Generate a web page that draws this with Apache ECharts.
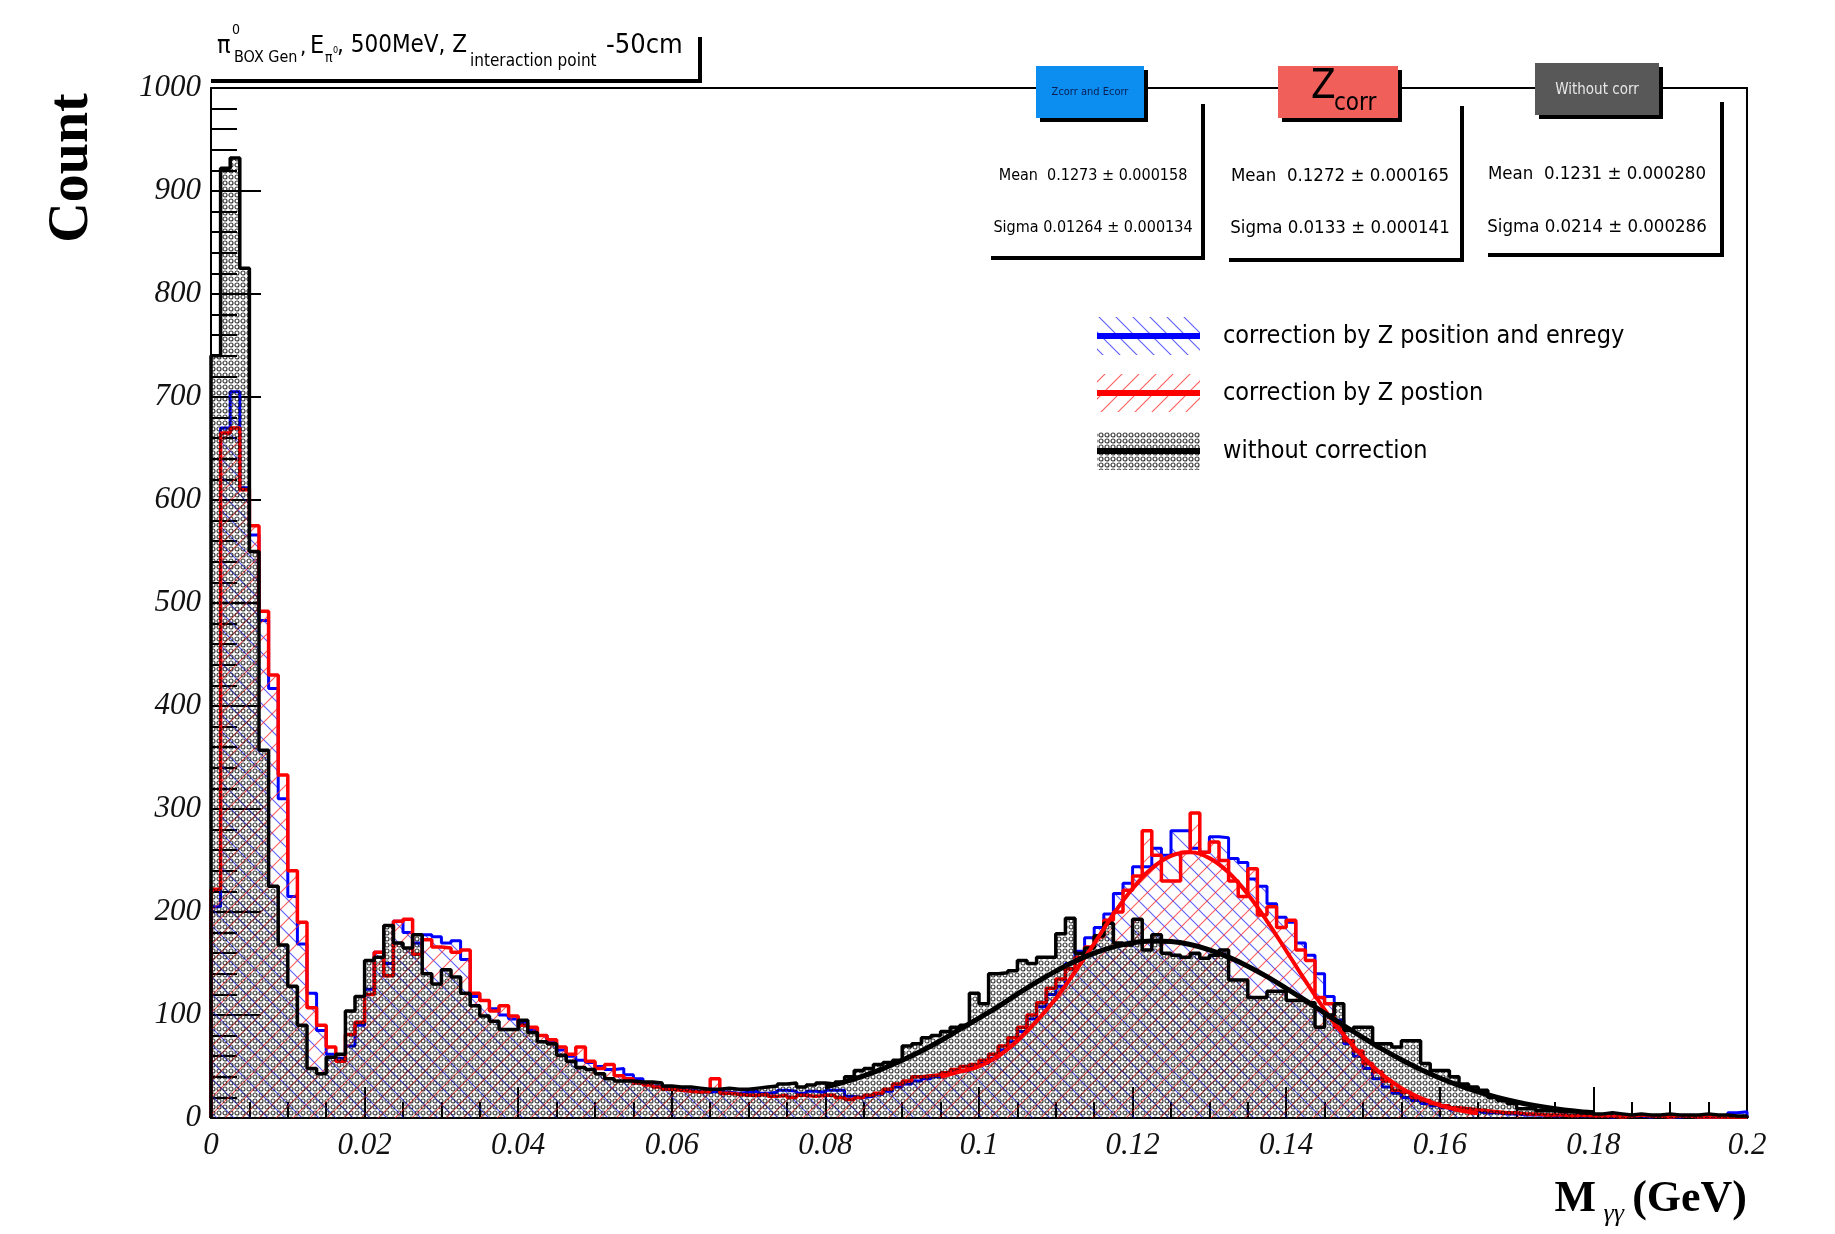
<!DOCTYPE html>
<html><head><meta charset="utf-8">
<script src="https://cdn.jsdelivr.net/npm/echarts@6/dist/echarts.min.js"></script>
<style>html,body{margin:0;padding:0;background:#fff;}#c{width:1835px;height:1234px;}</style>
</head><body><div id="c"></div>
<script>
// ---------------- DATA ----------------
const BIN_WIDTH = 0.00125; // GeV, 160 bins over 0..0.2
const blueCounts = [205,670,705,612,566,483,417,310,215,169,121,85,62,58,70,90,125,161,150,191,
180,170,178,176,170,172,154,118,114,106,100,96,92,86,80,74,66,60,56,54,
50,47,48,42,38,34,31,29,28,27,26,25,26,25,24,25,26,24,25,27,
26,24,26,25,27,27,21,20,21,23,26,30,33,36,38,40,43,45,46,50,
53,58,66,74,84,96,108,120,128,150,162,175,185,198,218,228,244,244,262,255,
279,279,262,258,273,272,252,248,232,225,208,195,190,170,158,140,118,95,72,60,
48,38,30,24,20,17,14,12,10,8,7,6,5,5,4,4,3,3,3,2,
3,2,2,2,2,1,2,2,2,1,2,1,1,2,1,1,1,2,5,6];
const redCounts = [222,665,670,610,575,492,430,333,240,190,107,90,69,55,81,93,120,161,138,191,
193,159,173,166,165,161,163,121,114,104,109,99,90,88,80,76,69,62,69,55,
48,52,41,38,34,32,30,28,27,26,25,26,38,24,23,22,22,23,21,22,
20,22,21,22,22,20,18,20,22,24,28,33,36,40,41,42,44,47,50,52,
56,62,70,78,88,100,112,126,135,145,156,166,176,192,200,221,235,279,255,230,
230,258,296,258,268,250,230,215,242,197,205,185,192,163,153,117,111,88,75,65,
53,45,36,27,25,20,17,14,12,10,9,8,7,6,5,5,4,4,3,3,
3,2,3,2,2,2,1,2,3,2,2,1,2,2,1,1,1,1,1,1];
const blackCounts = [740,922,932,825,550,357,225,168,128,90,48,43,59,62,104,118,153,156,187,170,
165,178,140,130,144,137,121,109,99,94,86,86,95,83,74,72,61,55,49,47,
43,38,36,36,35,35,34,31,30,30,29,28,28,29,28,28,29,30,31,33,
34,30,32,34,33,35,40,46,48,52,54,56,70,72,78,80,84,88,90,121,
111,140,141,143,153,150,156,156,179,194,160,165,177,189,170,168,193,163,178,160,
158,156,160,155,158,163,134,134,117,117,123,123,114,114,112,88,100,111,85,88,
88,72,72,69,75,75,53,46,46,40,33,30,27,20,17,14,9,9,7,7,
6,6,5,6,4,5,4,3,4,3,3,4,3,3,3,4,3,3,2,2];

const redFitX = [0.095,0.0975,0.100,0.1025,0.105,0.1075,0.110,0.1125,0.115,0.1175,0.120,0.1225,0.125,0.1275,0.130,0.1325,
0.135,0.1375,0.140,0.1425,0.145,0.1475,0.150,0.1525,0.155,0.1575,0.160,0.1625,0.165];
const redFitY = [40,45,50,60,75,94,116,142,169.4,197.8,222.8,242.4,254.5,257.9,252.3,238.3,
217.2,191.2,162.4,133.1,105.3,80.5,59.4,42.3,29.0,19.3,12.3,7.6,4.5];
const blackFitX = [0.080,0.0825,0.085,0.0875,0.090,0.0925,0.095,0.0975,0.100,0.1025,0.105,0.1075,0.110,0.1125,
0.115,0.1175,0.120,0.1225,0.125,0.1275,0.130,0.1325,0.135,0.1375,0.140,0.1425,0.145,0.1475,0.150,0.1525,
0.155,0.1575,0.160,0.1625,0.165,0.1675,0.170,0.1725,0.175,0.1775,0.180];
const blackFitY = [30,35,41,48,56,65,75,86,97,108.2,120.3,131.9,142.6,152.2,
160.1,166.2,170.2,171.9,171.3,168.4,163.3,156.2,147.4,137.2,125.9,114.1,101.9,89.8,78.1,66.9,
56.6,47.2,38.9,31.6,25.3,20.0,15.6,12.0,9.1,6.8,5.0];

const seriesNames = ['correction by Z position and enregy','correction by Z postion','without correction'];
const statHeaders = ['Zcorr and Ecorr','Z','Without corr'];
const statMeans = ['Mean  0.1273 \u00b1 0.000158','Mean  0.1272 \u00b1 0.000165','Mean  0.1231 \u00b1 0.000280'];
const statSigmas = ['Sigma 0.01264 \u00b1 0.000134','Sigma 0.0133 \u00b1 0.000141','Sigma 0.0214 \u00b1 0.000286'];

// ---------------- STYLE HELPERS ----------------
function hatch(color, forward) {
  const s = 17, c = document.createElement('canvas'); c.width = c.height = s;
  const g = c.getContext('2d'); g.strokeStyle = color; g.lineWidth = 1.1; g.beginPath();
  if (forward) { g.moveTo(0, s); g.lineTo(s, 0); g.moveTo(-2, 2); g.lineTo(2, -2); g.moveTo(s - 2, s + 2); g.lineTo(s + 2, s - 2); }
  else { g.moveTo(0, 0); g.lineTo(s, s); g.moveTo(s - 2, -2); g.lineTo(s + 2, 2); g.moveTo(-2, s - 2); g.lineTo(2, s + 2); }
  g.stroke(); return c;
}
function dots() {
  const s = 6, c = document.createElement('canvas'); c.width = c.height = s;
  const g = c.getContext('2d'); g.strokeStyle = 'rgba(0,0,0,0.78)'; g.lineWidth = 1.15;
  g.beginPath(); g.arc(3, 3, 2, 0, Math.PI * 2); g.stroke(); return c;
}
const blueHatch = {image: hatch('rgba(40,40,255,0.75)', false), repeat: 'repeat'};
const redHatch = {image: hatch('rgba(255,40,40,0.75)', true), repeat: 'repeat'};
const blackDots = {image: dots(), repeat: 'repeat'};

function histPoints(counts) {
  const pts = [[0, 0]];
  counts.forEach((v, i) => pts.push([+(i * BIN_WIDTH).toFixed(6), v]));
  const end = +(counts.length * BIN_WIDTH).toFixed(6);
  pts.push([end, counts[counts.length - 1]]); pts.push([end, 0]);
  return pts;
}
function histSeries(name, counts, color, width, fill, z) {
  return {name, type: 'line', step: 'end', data: histPoints(counts), symbol: 'none', z,
    lineStyle: {color, width}, areaStyle: {color: fill, opacity: 1}, silent: true};
}
function fitSeries(name, xs, ys, color, width, z) {
  return {name, type: 'line', smooth: 0.4, data: xs.map((x, i) => [x, ys[i]]), symbol: 'none', z,
    lineStyle: {color, width}, silent: true};
}

const serif = "'Liberation Serif','DejaVu Serif',serif";
const narrow = "'DejaVu Sans Condensed','Liberation Sans',Arial,sans-serif";

function txt(x, y, text, size, opts) {
  return Object.assign({type: 'text', x, y, silent: true, z: 100,
    style: Object.assign({text, font: size + 'px ' + narrow, fill: '#000', align: 'left', verticalAlign: 'middle'}, (opts || {}))});
}
function line(x1, y1, x2, y2, w, color) {
  return {type: 'line', silent: true, z: 100, shape: {x1, y1, x2, y2}, style: {stroke: color || '#000', lineWidth: w}};
}
function rect(x, y, w, h, fill, z) {
  return {type: 'rect', silent: true, z: z || 100, shape: {x, y, width: w, height: h}, style: {fill}};
}

const graphics = [];
// Title pave
graphics.push(txt(217, 46, '\u03c0', 25));
graphics.push(txt(232, 30, '0', 14));
graphics.push(txt(234, 58, 'BOX Gen', 16));
graphics.push(txt(300, 48, ',', 22));
graphics.push(txt(310, 46, 'E', 25));
graphics.push(txt(325, 58, '\u03c0', 14));
graphics.push(txt(333, 51, '0', 9));
graphics.push(txt(337, 46, ', 500MeV, Z', 24));
graphics.push(txt(470, 62, 'interaction point', 17));
graphics.push(txt(606, 46, '-50cm', 27));
graphics.push(line(211, 81, 702, 81, 4));
graphics.push(line(700, 37, 700, 83, 4));

// Stats boxes
const boxes = [
  {hx: 1036, hy: 66, hw: 108, hh: 52, color: '#0c8ef0', l: 987, r: 1203, t: 100, b: 258, cx: 1093, fs: 16},
  {hx: 1278, hy: 66, hw: 120, hh: 52, color: '#f05f5a', l: 1225, r: 1462, t: 102, b: 260, cx: 1340, fs: 18.5},
  {hx: 1535, hy: 63, hw: 124, hh: 52, color: '#585858', l: 1484, r: 1722, t: 98, b: 255, cx: 1597, fs: 18.5}
];
boxes.forEach((bx, i) => {
  graphics.push(rect(bx.hx + 4, bx.hy + 4, bx.hw, bx.hh, '#000', 100));
  graphics.push(rect(bx.hx, bx.hy, bx.hw, bx.hh, bx.color, 101));
  graphics.push(line(bx.r, bx.t + 4, bx.r, bx.b + 2, 4));
  graphics.push(line(bx.l + 4, bx.b, bx.r + 2, bx.b, 4));
  graphics.push(txt(bx.cx, 176 - (i === 2 ? 2 : 0), statMeans[i], bx.fs, {align: 'center'}));
  graphics.push(txt(bx.cx, 228 - (i === 2 ? 1 : 0), statSigmas[i], bx.fs, {align: 'center'}));
});
graphics.push(Object.assign(txt(1090, 92, statHeaders[0], 11, {align: 'center', fill: '#0b1f55'}), {z: 102}));
graphics.push(Object.assign(txt(1311, 88, statHeaders[1], 40, {fill: '#000'}), {z: 102}));
graphics.push(Object.assign(txt(1334, 104, 'corr', 24, {fill: '#000'}), {z: 102}));
graphics.push(Object.assign(txt(1597, 90, statHeaders[2], 15, {align: 'center', fill: '#e8e8e8'}), {z: 102}));

// Legend
const legendRows = [
  {y: 336, fill: blueHatch, color: '#0000ff'},
  {y: 393, fill: redHatch, color: '#ff0000'},
  {y: 451, fill: blackDots, color: '#000'}
];
legendRows.forEach((r, i) => {
  graphics.push(rect(1097, r.y - 19, 103, 38, r.fill, 100));
  graphics.push(line(1097, r.y, 1200, r.y, 6, r.color));
  graphics.push(txt(1223, r.y, seriesNames[i], 25));
});

// Axis titles
graphics.push({type: 'text', x: 73, y: 168, rotation: Math.PI / 2, silent: true, z: 100,
  style: {text: 'Count', font: 'bold 56px ' + serif, fill: '#000', align: 'center', verticalAlign: 'middle'}});
graphics.push(txt(1747, 1200, '(GeV)', 44, {font: 'bold 44px ' + serif, align: 'right'}));
graphics.push(txt(1624, 1214, '\u03b3\u03b3', 26, {font: 'italic 26px ' + serif, align: 'right'}));
graphics.push(txt(1596, 1200, 'M', 44, {font: 'bold 44px ' + serif, align: 'right'}));

const tickLabel = {fontFamily: serif, fontStyle: 'italic', fontSize: 31, color: '#111', formatter: v => String(v)};
const option = {
  backgroundColor: '#ffffff',
  animation: false,
  grid: {left: 211, top: 88, width: 1536, height: 1030, containLabel: false},
  xAxis: [
    {type: 'value', min: 0, max: 0.2, interval: 0.02, position: 'bottom',
      axisLine: {show: true, onZero: false, lineStyle: {color: '#000', width: 2}},
      axisTick: {show: true, inside: true, length: 31, lineStyle: {color: '#000', width: 2}},
      minorTick: {show: true, splitNumber: 4, length: 16, lineStyle: {color: '#000', width: 2}},
      axisLabel: Object.assign({margin: 12}, tickLabel, {formatter: v => String(+v.toFixed(2))}), splitLine: {show: false}},
    {type: 'value', min: 0, max: 0.2, position: 'top', axisLine: {show: true, onZero: false, lineStyle: {color: '#000', width: 2}},
      axisTick: {show: false}, axisLabel: {show: false}, splitLine: {show: false}}
  ],
  yAxis: [
    {type: 'value', min: 0, max: 1000, interval: 100, position: 'left',
      axisLine: {show: true, onZero: false, lineStyle: {color: '#000', width: 2}},
      axisTick: {show: true, inside: true, length: 50, lineStyle: {color: '#000', width: 2}},
      minorTick: {show: true, splitNumber: 5, length: 26, lineStyle: {color: '#000', width: 2}},
      axisLabel: Object.assign({margin: 10}, tickLabel), splitLine: {show: false}},
    {type: 'value', min: 0, max: 1000, position: 'right', axisLine: {show: true, onZero: false, lineStyle: {color: '#000', width: 2}},
      axisTick: {show: false}, axisLabel: {show: false}, splitLine: {show: false}}
  ],
  series: [
    histSeries(seriesNames[0], blueCounts, '#0000ff', 3, blueHatch, 2),
    histSeries(seriesNames[1], redCounts, '#ff0000', 3.5, redHatch, 3),
    histSeries(seriesNames[2], blackCounts, '#000000', 3.5, blackDots, 4),
    fitSeries('fit Zcorr', redFitX, redFitY, '#ff0000', 4, 5),
    fitSeries('fit without corr', blackFitX, blackFitY, '#000000', 5, 6)
  ],
  graphic: graphics
};
const chart = echarts.init(document.getElementById('c'), null, {renderer: 'canvas'});
chart.setOption(option);
</script>
</body></html>
